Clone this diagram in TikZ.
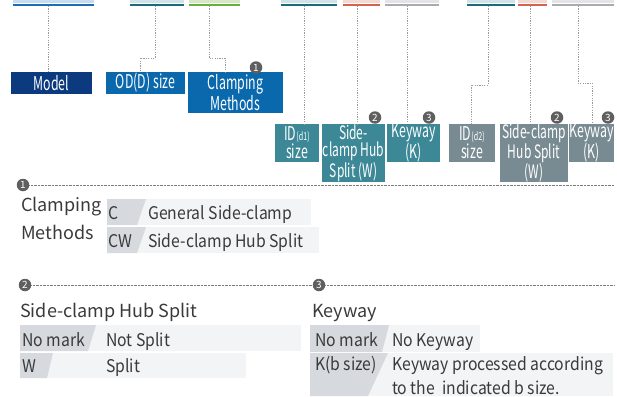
\documentclass[tikz,border=0pt]{standalone}
\usepackage{fontspec}
\setmainfont{Noto Sans CJK KR}
\newfontfamily\boxfont[FakeStretch=0.65]{Noto Sans CJK KR}
\newfontfamily\rowfont[FakeStretch=0.9]{Noto Sans CJK KR}

\definecolor{navy}{HTML}{0B3A7E}
\definecolor{midblue}{HTML}{0A68AC}
\definecolor{teal}{HTML}{3C8897}
\definecolor{slate}{HTML}{788B93}
\definecolor{badgegray}{HTML}{5F5F5F}
\definecolor{dotgray}{HTML}{9A9A9A}
\definecolor{textgray}{HTML}{3A3A3A}
\definecolor{cellgray}{HTML}{D6D9DD}
\definecolor{rowlight}{HTML}{F3F4F6}
\definecolor{bluelight}{HTML}{C6DDF1}
\definecolor{bluedark}{HTML}{1E6DB4}
\definecolor{teallight}{HTML}{CFE4E7}
\definecolor{tealdark}{HTML}{1B6B79}
\definecolor{greenlight}{HTML}{D6E9C4}
\definecolor{greendark}{HTML}{6BAE3F}
\definecolor{redlight}{HTML}{F6D9D2}
\definecolor{reddark}{HTML}{D0654F}
\definecolor{graylight}{HTML}{E3E4E5}
\definecolor{graydark}{HTML}{A9ABAE}

\begin{document}
\begin{tikzpicture}[x=1pt,y=-1pt,
    conn/.style={draw=dotgray, line width=0.9pt, dash pattern=on 1.2pt off 1.2pt},
    divider/.style={draw=dotgray!80!black, line width=0.6pt, dash pattern=on 0.6pt off 0.8pt},
    tag/.style={text=white, font=\boxfont\fontsize{19}{16}\selectfont, align=center, inner sep=0pt},
    tall/.style={tag, font=\boxfont\fontsize{18.5}{17.5}\selectfont},
    badge/.style={circle, fill=badgegray, text=white, inner sep=0pt, minimum size=12.5pt, font=\fontsize{10}{10}\selectfont},
    txt/.style={anchor=base west, inner sep=0pt, text=textgray, font=\rowfont\fontsize{17.5}{17.5}\selectfont},
    title/.style={txt, font=\fontsize{18}{18}\selectfont}]
  \useasboundingbox (0,0) rectangle (617,396);

    \fill[bluelight] (13,0) rectangle (94,3);    \fill[bluedark] (13,3.8) rectangle (94,6);
    \fill[teallight] (130,0) rectangle (184,3);  \fill[tealdark] (130,3.8) rectangle (184,6);
    \fill[greenlight] (189,0) rectangle (240,3); \fill[greendark] (189,3.8) rectangle (240,6);
    \fill[teallight] (281,0) rectangle (337,3);  \fill[tealdark] (281,3.8) rectangle (337,6);
    \fill[redlight] (343,0) rectangle (380,3);   \fill[reddark] (343,3.8) rectangle (380,6);
    \fill[graylight] (385,0) rectangle (439,3);  \fill[graydark] (385,3.8) rectangle (439,6);
    \fill[teallight] (467,0) rectangle (515,3);  \fill[tealdark] (467,3.8) rectangle (515,6);
    \fill[redlight] (518,0) rectangle (547,3);   \fill[reddark] (518,3.8) rectangle (547,6);
    \fill[graylight] (552,0) rectangle (614,3);  \fill[graydark] (552,3.8) rectangle (614,6);

    \node[tag, fill=navy, minimum width=81pt, minimum height=22pt] (model) at (51.5,83) {Model};
    \node[tag, fill=midblue, minimum width=79pt, minimum height=22pt] (od) at (145.5,83) {OD(D) size};
    \node[tag, fill=midblue, minimum width=95pt, minimum height=41pt] (clamp) at (235.5,92.5) {Clamping\\Methods};
    \node[tag, fill=teal, minimum width=44pt, minimum height=38pt] (idone) at (297,143) {ID{\fontsize{11}{11}\selectfont(d1)}\\size};
    \node[tall, fill=teal, minimum width=63pt, minimum height=58pt] (splitone) at (353.5,153) {Side-\\clamp Hub\\Split (W)};
    \node[tag, fill=teal, minimum width=53pt, minimum height=38pt] (keyone) at (413.5,143) {Keyway\\(K)};
    \node[tag, fill=slate, minimum width=46pt, minimum height=38pt] (idtwo) at (472,143) {ID{\fontsize{11}{11}\selectfont(d2)}\\size};
    \node[tall, fill=slate, minimum width=68pt, minimum height=58pt] (splittwo) at (534,153) {Side-clamp\\Hub Split\\(W)};
    \node[tag, fill=slate, minimum width=43pt, minimum height=38pt] (keytwo) at (591.5,143) {Keyway\\(K)};

    \coordinate (b-model) at (48,6);
    \coordinate (b-od) at (155,6);      \coordinate (k-od) at (140,58);
    \coordinate (b-clamp) at (209,6);   \coordinate (k-clamp) at (225,58);
    \coordinate (b-idone) at (304,6);
    \coordinate (b-splitone) at (357,6);
    \coordinate (b-keyone) at (407,6);
    \coordinate (b-idtwo) at (488,6);   \coordinate (k-idtwo) at (471,85);
    \coordinate (b-splittwo) at (530,6);
    \coordinate (b-keytwo) at (578,6);  \coordinate (k-keytwo) at (592,83);

    \draw[conn] (b-model) -- (b-model |- model.north);
    \draw[conn] (b-od) |- (k-od) -- (k-od |- od.north);
    \draw[conn] (b-clamp) |- (k-clamp) -- (k-clamp |- clamp.north);
    \draw[conn] (b-idone) -- (b-idone |- idone.north);
    \draw[conn] (b-splitone) -- (b-splitone |- splitone.north);
    \draw[conn] (b-keyone) -- (b-keyone |- keyone.north);
    \draw[conn] (b-idtwo) |- (k-idtwo) -- (k-idtwo |- idtwo.north);
    \draw[conn] (b-splittwo) -- (b-splittwo |- splittwo.north);
    \draw[conn] (b-keytwo) |- (k-keytwo) -- (k-keytwo |- keytwo.north);

    \node[badge] (m1) at (256,67.5) {1};
    \node[badge] (m2a) at (375,117.5) {2};
    \node[badge] (m3a) at (429,117.5) {3};
    \node[badge] (m2b) at (557,117.5) {2};
    \node[badge] (m3b) at (608,117.5) {3};

    \node[badge] (s1) at (23,185) {1};
    \node[badge] (s2) at (25,285) {2};
    \node[badge] (s3) at (319,285) {3};
    \coordinate (e1) at (614,185);
    \coordinate (e3) at (615,285);
    \draw[divider] (s1.east) -- (e1);
    \draw[divider] (s2.east) -- (s3.west);
    \draw[divider] (s3.east) -- (e3);

    \fill[rowlight] (107,199) rectangle (311,225);
    \fill[cellgray] (107,199) -- (146,199) -- (137,225) -- (107,225) -- cycle;
    \fill[rowlight] (107,227) rectangle (319,253);
    \fill[cellgray] (107,227) -- (146,227) -- (137,253) -- (107,253) -- cycle;
    \node[title] (t1a) at (21,211) {Clamping};
    \node[title] (t1b) at (21,239) {Methods};
    \node[txt] (c) at (108,219) {C};
    \node[txt] (c-text) at (148,219) {General Side-clamp};
    \node[txt] (cw) at (108,247) {CW};
    \node[txt] (cw-text) at (148,247) {Side-clamp Hub Split};

    \fill[rowlight] (20,325) rectangle (301,351);
    \fill[cellgray] (20,325) -- (96,325) -- (88,351) -- (20,351) -- cycle;
    \fill[rowlight] (20,353) rectangle (246,378);
    \fill[cellgray] (20,353) -- (53,353) -- (47,378) -- (20,378) -- cycle;
    \node[title] (t2) at (20,317) {Side-clamp Hub Split};
    \node[txt] (w-none) at (22,346) {No mark};
    \node[txt] (w-none-text) at (106,346) {Not Split};
    \node[txt] (w) at (22,372) {W};
    \node[txt] (w-text) at (106,372) {Split};

    \fill[rowlight] (310,325) rectangle (480,352);
    \fill[cellgray] (310,325) -- (389,325) -- (382,352) -- (310,352) -- cycle;
    \fill[rowlight] (310,353) rectangle (613,396);
    \fill[cellgray] (310,353) -- (388,353) -- (368,396) -- (310,396) -- cycle;
    \node[title] (t3) at (312,317) {Keyway};
    \node[txt] (k-none) at (315,346) {No mark};
    \node[txt] (k-none-text) at (392,346) {No Keyway};
    \node[txt] (k) at (315,370) {K(b size)};
    \node[txt] (k-text) at (392,370) {Keyway processed according};
    \node[txt] (k-text2) at (392,394) {to the\ \ indicated b size.};
\end{tikzpicture}
\end{document}
